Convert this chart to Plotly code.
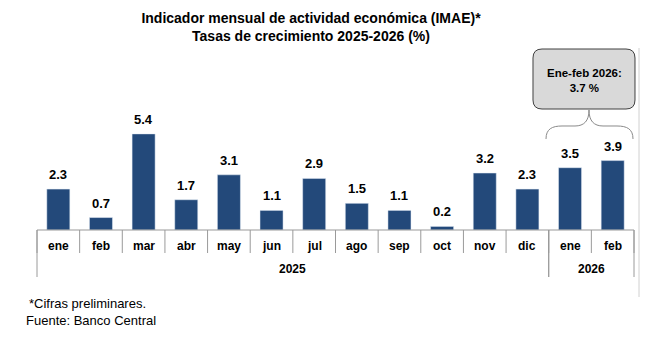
import plotly.graph_objects as go

months = ["ene", "feb", "mar", "abr", "may", "jun", "jul", "ago", "sep", "oct", "nov", "dic", "ene", "feb"]
values = [2.3, 0.7, 5.4, 1.7, 3.1, 1.1, 2.9, 1.5, 1.1, 0.2, 3.2, 2.3, 3.5, 3.9]
years = ["2025", "2026"]
year_counts = [12, 2]
box_text = "Ene-feb 2026:<br>3.7 %"
title_text = "Indicador mensual de actividad económica (IMAE)*<br>Tasas de crecimiento 2025-2026 (%)"
notes = ["*Cifras preliminares.", "Fuente: Banco Central"]

W, H = 657, 338
L, R, T, B = 32, 639, 40, 230
PXU = 17.8  # pixels per unit on y
n = len(months)
cat_w = (634 - 37) / n
x_lo = -0.5 - (37 - L) / cat_w
x_hi = n - 0.5 + (R - 634) / cat_w

FONT = "Liberation Sans, Arial, sans-serif"
BLUE = "#23497a"
GRAY = "#9a9a9a"

def px(xp):
    return (xp - L) / (R - L)

def py(yp):
    return (B - yp) / (B - T)

xs = list(range(n))
fig = go.Figure(go.Bar(x=xs, y=values, width=0.54, marker_color=BLUE, hoverinfo="skip"))

ann = []
shapes = []
# value labels and month labels
for i, v in zip(xs, values):
    ann.append(dict(x=i, y=v, xref="x", yref="y", text=f"<b>{v:.1f}</b>", showarrow=False,
                    xanchor="center", yanchor="bottom", yshift=5,
                    font=dict(size=13, color="black", family=FONT)))
    ann.append(dict(x=i, y=0, xref="x", yref="y", text=f"<b>{months[i]}</b>", showarrow=False,
                    xanchor="center", yanchor="middle", yshift=-16,
                    font=dict(size=12, color="black", family=FONT)))
# baseline
shapes.append(dict(type="line", xref="paper", yref="paper", x0=px(37), x1=px(634), y0=0, y1=0,
                   line=dict(color=GRAY, width=1.2)))
# separators
for k in range(n + 1):
    xp = 37 + k * cat_w
    shapes.append(dict(type="line", xref="paper", yref="paper", x0=px(xp), x1=px(xp),
                       y0=0, y1=py(253), line=dict(color=GRAY, width=1)))
# year group separators and labels
start = 0
for yl, c in zip(years, year_counts):
    for edge in (start, start + c):
        xp = 37 + edge * cat_w
        shapes.append(dict(type="line", xref="paper", yref="paper", x0=px(xp), x1=px(xp),
                           y0=0, y1=py(277), line=dict(color=GRAY, width=1)))
    mid = 37 + (start + c / 2) * cat_w
    ann.append(dict(x=px(mid), y=py(269), xref="paper", yref="paper", text=f"<b>{yl}</b>",
                    showarrow=False, xanchor="center", yanchor="middle",
                    font=dict(size=12, color="black", family=FONT)))
    start += c

# right vertical line
shapes.append(dict(type="line", xref="paper", yref="paper", x0=1, x1=1, y0=py(48), y1=py(297),
                   line=dict(color="#d0d0d0", width=1)))

# rounded box
bx0, bx1, by0, by1, r = 533, 635, 49, 109, 9
def P(x, y):
    return f"{px(x):.5f},{py(y):.5f}"
box_path = (f"M {P(bx0 + r, by0)} L {P(bx1 - r, by0)} Q {P(bx1, by0)} {P(bx1, by0 + r)} "
            f"L {P(bx1, by1 - r)} Q {P(bx1, by1)} {P(bx1 - r, by1)} L {P(bx0 + r, by1)} "
            f"Q {P(bx0, by1)} {P(bx0, by1 - r)} L {P(bx0, by0 + r)} Q {P(bx0, by0)} {P(bx0 + r, by0)} Z")
shapes.append(dict(type="path", xref="paper", yref="paper", path=box_path,
                   fillcolor="#d9d9d9", line=dict(color="#404040", width=1)))
ann.append(dict(x=px((bx0 + bx1) / 2), y=py(80), xref="paper", yref="paper",
                text=f"<b>{box_text}</b>", showarrow=False, xanchor="center", yanchor="middle",
                font=dict(size=11.5, color="black", family=FONT)))

# curly brace
lx, rx, cx = 546, 633, 589
ey, my, ty = 139, 126, 110
brace = (f"M {P(lx, ey)} C {P(lx, my + 3)} {P(lx + 6, my)} {P(lx + 16, my)} "
         f"L {P(cx - 14, my)} C {P(cx - 5, my)} {P(cx, my - 5)} {P(cx, ty)} "
         f"C {P(cx, my - 5)} {P(cx + 5, my)} {P(cx + 14, my)} "
         f"L {P(rx - 16, my)} C {P(rx - 6, my)} {P(rx, my + 3)} {P(rx, ey)}")
shapes.append(dict(type="path", xref="paper", yref="paper", path=brace,
                   line=dict(color="#8a8a8a", width=1)))

# footnotes
ann.append(dict(x=px(27), y=py(303), xref="paper", yref="paper", text=notes[0],
                showarrow=False, xanchor="left", yanchor="middle",
                font=dict(size=13, color="black", family=FONT)))
ann.append(dict(x=px(24), y=py(320), xref="paper", yref="paper", text=notes[1],
                showarrow=False, xanchor="left", yanchor="middle",
                font=dict(size=13, color="black", family=FONT)))

fig.update_layout(
    width=W, height=H,
    margin=dict(l=L, r=W - R, t=T, b=H - B),
    paper_bgcolor="white", plot_bgcolor="white",
    showlegend=False,
    title=dict(text=f"<b>{title_text}</b>", x=311 / W, xanchor="center", xref="container",
               y=1 - 23 / H, yanchor="middle", yref="container",
               font=dict(size=14, color="black", family=FONT)),
    xaxis=dict(range=[x_lo, x_hi], visible=False, fixedrange=True),
    yaxis=dict(range=[0, (B - T) / PXU], visible=False, fixedrange=True),
    annotations=ann, shapes=shapes,
)
fig.write_html("out.html")
